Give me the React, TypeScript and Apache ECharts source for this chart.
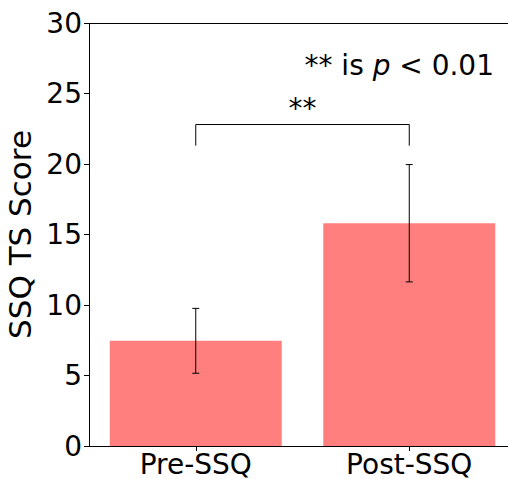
import React, { useEffect, useRef } from 'react';
import * as echarts from 'echarts';

const categories = ['Pre-SSQ', 'Post-SSQ'];
const means = [7.46, 15.8];
const errors = [2.3, 4.16];
const yTicks = [0, 5, 10, 15, 20, 25, 30];
const bracketEnds = [0, 1];
const bracketLevels = [21.3, 22.8];
const sigMark = '**';
const sigMarkY = 23.95;
const yName = 'SSQ TS Score';
const noteParts = ['** is ', 'p', ' < 0.01'];

const FONT = 'DejaVu Sans';
const CHART_W = 560;

export default function App() {
  const ref = useRef<HTMLDivElement>(null);
  useEffect(() => {
    document.body.style.margin = '0';
    document.body.style.overflow = 'hidden';
    if (!ref.current) return;
    const chart = echarts.init(ref.current, undefined, { renderer: 'svg' });
    const errData = categories.map((_, i) => [i, means[i] - errors[i], means[i] + errors[i]]);
    chart.setOption({
      animation: false,
      backgroundColor: '#fff',
      grid: { left: 89, right: CHART_W - 516, top: 23, bottom: 33, containLabel: false, outerBoundsMode: 'none' },
      xAxis: {
        type: 'category',
        data: categories,
        axisLine: { show: true, onZero: false, lineStyle: { color: '#000', width: 1 } },
        axisTick: { show: true, alignWithLabel: true, length: 5, lineStyle: { color: '#000' } },
        axisLabel: { fontFamily: FONT, fontSize: 28, color: '#000', margin: 4 },
        splitLine: { show: false },
      },
      yAxis: {
        type: 'value',
        min: yTicks[0],
        max: yTicks[yTicks.length - 1],
        interval: yTicks[1] - yTicks[0],
        name: yName,
        nameLocation: 'middle',
        nameGap: 45,
        nameTextStyle: { fontFamily: FONT, fontSize: 31, color: '#000' },
        axisLine: { show: false },
        axisTick: { show: true, length: 5, lineStyle: { color: '#000' } },
        axisLabel: { fontFamily: FONT, fontSize: 28, color: '#000', margin: 7 },
        splitLine: { show: false },
      },
      graphic: [
        {
          type: 'line',
          z: 10,
          shape: { x1: 89.5, y1: 23, x2: 89.5, y2: 446.5 },
          style: { stroke: '#000', lineWidth: 1 },
        },
        {
          type: 'line',
          z: 10,
          shape: { x1: 89, y1: 23.5, x2: 516.5, y2: 23.5 },
          style: { stroke: '#000', lineWidth: 1 },
        },
        {
          type: 'line',
          z: 10,
          shape: { x1: 516.5, y1: 23, x2: 516.5, y2: 446.5 },
          style: { stroke: '#000', lineWidth: 1 },
        },
        {
          type: 'text',
          x: 494,
          y: 65,
          z: 10,
          style: {
            text: `{a|${noteParts[0]}}{b|${noteParts[1]}}{a|${noteParts[2]}}`,
            align: 'right',
            verticalAlign: 'middle',
            rich: {
              a: { fontFamily: FONT, fontSize: 28, fill: '#000' },
              b: { fontFamily: FONT, fontSize: 28, fontStyle: 'italic', fill: '#000' },
            },
          },
        },
      ],
      series: [
        { type: 'bar', data: means, barWidth: 172, z: 2, clip: false, itemStyle: { color: '#FF7F7F' } },
        {
          type: 'custom',
          data: errData,
          z: 5,
          clip: false,
          encode: { x: 0, y: [1, 2] },
          renderItem: (params: any, api: any) => {
            const x = api.value(0);
            const lo = api.coord([x, api.value(1)]);
            const hi = api.coord([x, api.value(2)]);
            const c = 3.5;
            const st = { stroke: '#000', lineWidth: 1 };
            return {
              type: 'group',
              children: [
                { type: 'line', shape: { x1: lo[0], y1: lo[1], x2: hi[0], y2: hi[1] }, style: st },
                { type: 'line', shape: { x1: lo[0] - c, y1: lo[1], x2: lo[0] + c, y2: lo[1] }, style: st },
                { type: 'line', shape: { x1: hi[0] - c, y1: hi[1], x2: hi[0] + c, y2: hi[1] }, style: st },
              ],
            };
          },
        },
        {
          type: 'custom',
          z: 5,
          clip: false,
          data: [[bracketEnds[0], bracketEnds[1], bracketLevels[0], bracketLevels[1], sigMarkY]],
          encode: { x: [0, 1], y: [2, 3] },
          renderItem: (params: any, api: any) => {
            const a = api.value(0);
            const b = api.value(1);
            const p0 = api.coord([a, api.value(2)]);
            const p1 = api.coord([a, api.value(3)]);
            const p2 = api.coord([b, api.value(3)]);
            const p3 = api.coord([b, api.value(2)]);
            const t = api.coord([a, api.value(4)]);
            return {
              type: 'group',
              children: [
                {
                  type: 'polyline',
                  shape: { points: [p0, p1, p2, p3] },
                  style: { stroke: '#000', lineWidth: 1, fill: 'none' },
                },
                {
                  type: 'text',
                  x: (p1[0] + p2[0]) / 2,
                  y: t[1],
                  style: {
                    text: sigMark,
                    fontFamily: FONT,
                    fontSize: 28,
                    fill: '#000',
                    align: 'center',
                    verticalAlign: 'middle',
                  },
                },
              ],
            };
          },
        },
      ],
    });
    return () => chart.dispose();
  }, []);
  return (
    <div style={{ width: 508, height: 479, overflow: 'hidden', position: 'relative' }}>
      <div ref={ref} style={{ width: CHART_W, height: 479 }} />
    </div>
  );
}
